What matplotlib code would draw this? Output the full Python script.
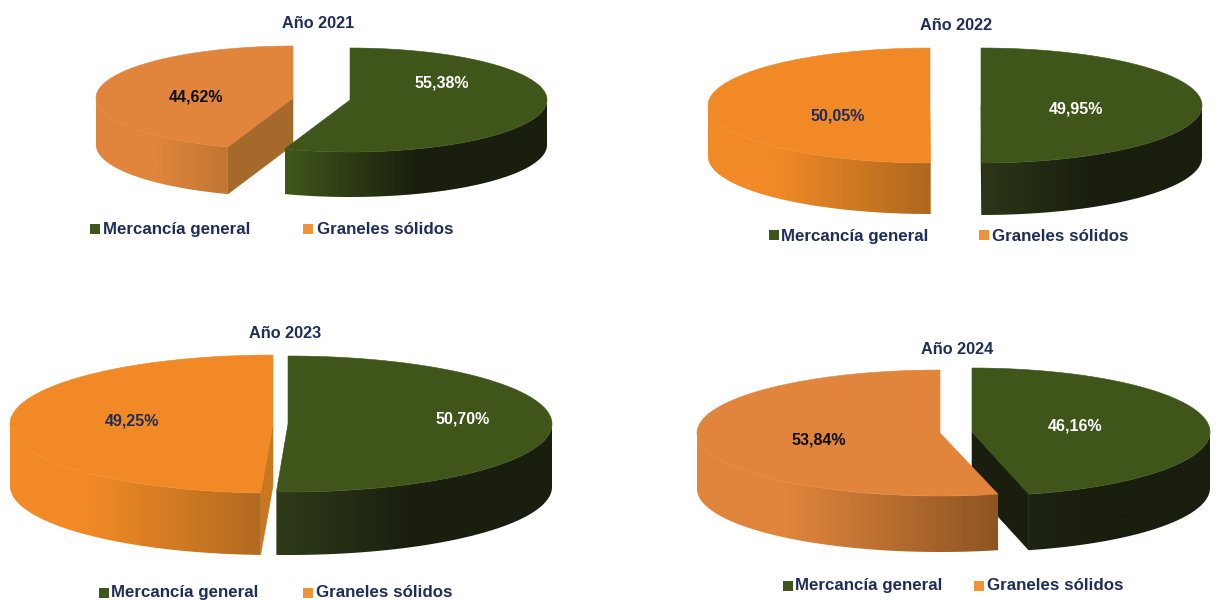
import numpy as np
import matplotlib
matplotlib.use("Agg")
import matplotlib.pyplot as plt
from matplotlib.colors import to_rgb
from matplotlib.patches import Polygon, Rectangle

# Share of traffic per year (percent)
years = ["2021", "2022", "2023", "2024"]
mercancia_general = [55.38, 49.95, 50.70, 46.16]
graneles_solidos = [44.62, 50.05, 49.25, 53.84]
legend_names = ["Mercancía general", "Graneles sólidos"]

# Colours per year: top surface, ends of the side gradient, cut face
GREEN_TOP = "#3f5519"
GREEN_DARK = "#191e0f"
green_side_lights = ["#3f5519", "#2c3617", "#2e3a18", "#20271a"]
orange_tops = ["#e0853b", "#f18a26", "#f18a26", "#e0853b"]
orange_darks = ["#a5692b", "#ad681f", "#ad681f", "#8c5423"]
orange_faces = ["#a5692b", "#c8781f", "#c8781f", "#8c5423"]
label_colours = ["#0d0f14", "#1f2d5a", "#1f2d5a", "#0d0f14"]
NAVY = "#1f2d5a"

# Slice geometry in figure pixels: apex x, apex y, x radius, y radius, depth
green_geom = [(350, 100, 197, 52, 45), (981, 105.5, 221, 57.5, 52),
              (288, 424, 264, 68, 63), (972, 432, 238, 64, 56)]
orange_geom = [(293, 98, 197, 52, 47), (930, 105.5, 222, 57.5, 51),
               (273, 424, 263, 69, 62), (940, 433, 243, 63, 56)]

# Text and legend anchors in figure pixels
title_pos = [(318, 23), (956, 26), (285, 333), (957.5, 350)]
green_label_pos = [(442, 83), (1076, 109), (463, 419), (1075, 426)]
orange_label_pos = [(196, 97), (838, 116), (132, 421), (818.5, 440)]
legend_base = [234, 241, 597, 590]
legend_mid = [229, 235, 593, 586]
legend_sq_x = [(90, 303), (769, 979), (99, 303), (783, 974)]
legend_txt_x = [(103, 317), (781, 992), (111, 316), (795, 987)]

W, H = 1219, 601
fig = plt.figure(figsize=(W / 100, H / 100), dpi=100)
ax = fig.add_axes([0, 0, 1, 1])
plt.rcParams["font.family"] = ["Liberation Sans", "DejaVu Sans"]


def ellipse_pts(geom, angles, dy=0.0):
    x0, y0, rx, ry, _ = geom
    t = np.radians(angles)
    return np.column_stack([x0 + rx * np.sin(t), y0 - ry * np.cos(t) + dy])


def side_gradient(geom, sign, sweep, light, dark, stops):
    """Horizontal colour ramp spanning the slice's bounding box."""
    x0, _, rx, _, _ = geom
    reach = rx * np.sin(np.radians(sweep))
    if sign > 0:
        left, right = x0 + min(0, reach), x0 + rx
    else:
        left, right = x0 - rx, x0 + max(0, -reach)
    fr = np.linspace(0, 1, 256)
    mix = np.interp(fr, stops, [0, 0, 1, 1])
    c0, c1 = np.array(to_rgb(light)), np.array(to_rgb(dark))
    rgb = c0[None, :] * (1 - mix[:, None]) + c1[None, :] * mix[:, None]
    return rgb[None, :, :], left, right


def draw_slice(value, geom, sign, top, side_light, dark, face, stops, z):
    sweep = value * 3.6
    depth = geom[4]
    angles = sign * np.linspace(0, sweep, 400)

    # Cut face along the closing radius, visible only below half a turn
    if sweep < 180:
        end = ellipse_pts(geom, np.array([sign * sweep]))[0]
        apex = np.array(geom[:2], dtype=float)
        quad = [apex, end, end + [0, depth], apex + [0, depth]]
        ax.add_patch(Polygon(quad, closed=True, fc=face, ec=face, lw=0.4, zorder=z))

    # Outer rim: the part of the arc facing the viewer
    vis = np.linspace(90, sweep, 300) * sign
    upper = ellipse_pts(geom, vis)
    lower = ellipse_pts(geom, vis, depth)
    rim = Polygon(np.vstack([upper, lower[::-1]]), closed=True, fc="none", ec="none", zorder=z + 0.1)
    ax.add_patch(rim)
    grad, left, right = side_gradient(geom, sign, sweep, side_light, dark, stops)
    im = ax.imshow(grad, extent=[left, right, geom[1] + geom[3] + depth + 5, geom[1] - 5],
                   aspect="auto", interpolation="bilinear", zorder=z + 0.1)
    im.set_clip_path(rim)

    # Top surface
    arc = ellipse_pts(geom, angles)
    ax.add_patch(Polygon(np.vstack([geom[:2], arc]), closed=True, fc=top, ec=top, lw=0.4, zorder=z + 0.2))


GREEN_STOPS = [0, 0.02, 0.5, 1]
ORANGE_STOPS = [0, 0.3, 1, 1.01]

for i, year in enumerate(years):
    g, o = mercancia_general[i], graneles_solidos[i]
    # The slice showing its cut face goes behind the other one
    z_green, z_orange = (3, 5) if g * 3.6 < 180 else (5, 3)
    draw_slice(g, green_geom[i], 1, GREEN_TOP, green_side_lights[i], GREEN_DARK, GREEN_DARK, GREEN_STOPS, z_green)
    draw_slice(o, orange_geom[i], -1, orange_tops[i], orange_tops[i], orange_darks[i], orange_faces[i],
               ORANGE_STOPS, z_orange)

    ax.text(*title_pos[i], f"Año {year}", color=NAVY, fontsize=11.7, fontweight="bold",
            ha="center", va="center", zorder=10)
    ax.text(*green_label_pos[i], f"{g:.2f}%".replace(".", ","), color="white", fontsize=11.5,
            fontweight="bold", ha="center", va="center", zorder=10)
    ax.text(*orange_label_pos[i], f"{o:.2f}%".replace(".", ","), color=label_colours[i], fontsize=11.5,
            fontweight="bold", ha="center", va="center", zorder=10)

    swatches = [GREEN_TOP, "#f0923a"]
    for sx, tx, name, col in zip(legend_sq_x[i], legend_txt_x[i], legend_names, swatches):
        ax.add_patch(Rectangle((sx, legend_mid[i] - 4.75), 9.5, 9.5, fc=col, ec="none", zorder=10))
        ax.text(tx, legend_base[i], name, color=NAVY, fontsize=12.2, fontweight="bold",
                ha="left", va="baseline", zorder=10)

ax.set_xlim(0, W)
ax.set_ylim(H, 0)
ax.axis("off")
fig.savefig("out.png", dpi=100, facecolor="white")
